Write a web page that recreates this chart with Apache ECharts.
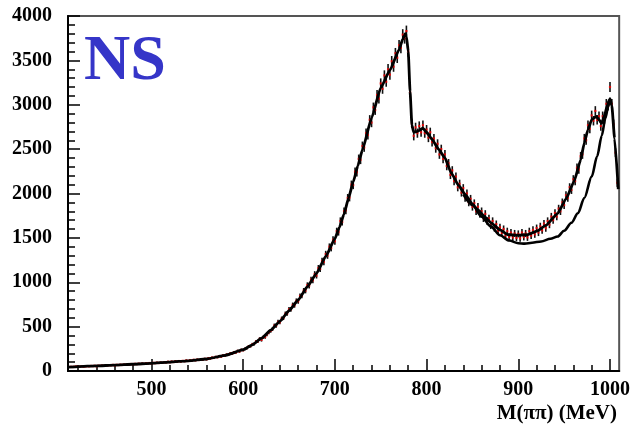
<!DOCTYPE html>
<html>
<head>
<meta charset="utf-8">
<script src="https://cdn.jsdelivr.net/npm/echarts@6/dist/echarts.min.js"></script>
<style>
  html, body { margin: 0; padding: 0; background: #fff; }
  #chart { width: 633px; height: 430px; }
</style>
</head>
<body>
<div id="chart"></div>
<script>
// M(pi pi) spectrum: histogram bins (2 MeV wide) with Poisson errors, fit, and fit without the f0 term
const binStart = 412;
const binWidth = 2;
const binCounts = [
  47, 45, 49, 52, 46, 50, 53, 48, 51, 55,
  52, 57, 55, 59, 53, 60, 57, 62, 58, 63,
  61, 66, 64, 69, 62, 70, 67, 72, 68, 73,
  70, 76, 73, 79, 74, 81, 77, 83, 79, 85,
  80, 87, 84, 90, 85, 92, 88, 95, 90, 96,
  92, 99, 96, 104, 98, 107, 101, 110, 104, 112,
  106, 114, 110, 119, 113, 122, 116, 126, 120, 129,
  124, 133, 128, 137, 131, 144, 139, 151, 147, 159,
  155, 168, 162, 176, 171, 185, 184, 199, 196, 212,
  208, 226, 220, 238, 234, 250, 258, 276, 280, 300,
  305, 332, 334, 362, 350, 381, 383, 412, 436, 452,
  472, 512, 510, 553, 549, 590, 598, 645, 648, 695,
  695, 744, 740, 790, 786, 845, 848, 905, 905, 968,
  962, 1030, 1022, 1092, 1075, 1160, 1150, 1240, 1228, 1318,
  1300, 1400, 1385, 1480, 1462, 1575, 1565, 1690, 1680, 1800,
  1810, 1950, 1955, 2100, 2095, 2245, 2240, 2390, 2380, 2535,
  2520, 2680, 2660, 2830, 2800, 2970, 2940, 3110, 3070, 3240,
  3180, 3330, 3260, 3400, 3340, 3490, 3430, 3580, 3530, 3670,
  3640, 3790, 3750, 3830, 3600, 3140, 2790, 2650, 2745, 2680,
  2760, 2690, 2770, 2680, 2720, 2630, 2690, 2580, 2620, 2510,
  2560, 2440, 2500, 2390, 2440, 2310, 2340, 2210, 2260, 2140,
  2190, 2070, 2110, 2010, 2060, 1950, 2000, 1900, 1940, 1850,
  1890, 1800, 1850, 1770, 1800, 1720, 1770, 1690, 1720, 1640,
  1690, 1610, 1655, 1580, 1620, 1555, 1600, 1525, 1575, 1510,
  1560, 1505, 1550, 1500, 1545, 1495, 1560, 1510, 1550, 1505,
  1575, 1525, 1590, 1540, 1610, 1560, 1630, 1585, 1660, 1610,
  1690, 1650, 1740, 1700, 1780, 1740, 1830, 1800, 1900, 1870,
  1980, 1950, 2070, 2040, 2160, 2140, 2290, 2270, 2420, 2440,
  2620, 2600, 2770, 2730, 2880, 2820, 2930, 2830, 2870, 2760,
  2870, 2840, 3010, 2990, 3200, 3010, 2780, 2460, 2120
];

const fitMass = [409, 420, 440, 460, 480, 500, 520, 540, 560, 580, 600, 610, 620, 630, 640, 650, 660, 670, 680, 690,
  700, 705, 710, 715, 720, 725, 730, 740, 750, 760, 770, 774, 777, 778, 780, 782, 784, 786, 790, 796, 800,
  806, 813, 820, 827, 835, 842, 850, 856, 864, 871, 880, 889, 900, 910, 921, 930, 943, 952, 961, 968,
  972, 976, 980, 985, 988, 991, 994, 997, 1000, 1002, 1005, 1009];
const fitCounts = [44, 50, 58, 66, 76, 87, 100, 115, 135, 175, 240, 295, 370, 460, 560, 680, 800, 950, 1100, 1290,
  1490, 1620, 1770, 1950, 2130, 2310, 2490, 2850, 3190, 3390, 3620, 3740, 3800, 3770, 3600, 3150, 2770, 2690, 2700, 2735, 2690,
  2610, 2500, 2400, 2230, 2090, 1990, 1880, 1814, 1730, 1664, 1590, 1535, 1530, 1535, 1580, 1640, 1777, 1940, 2140, 2380,
  2570, 2720, 2830, 2870, 2830, 2790, 2880, 2990, 3070, 2990, 2620, 2050];

const bgMass = [840, 850, 860, 870, 880, 890, 900, 907, 915, 925, 935, 943, 950, 958, 965, 972, 980, 986, 991, 995, 998, 1000];
const bgCounts = [1990, 1870, 1740, 1630, 1530, 1470, 1440, 1435, 1445, 1460, 1490, 1515, 1580, 1670, 1777, 1950, 2190, 2420, 2650, 2850, 2980, 3060];

const xMajorTicks = [500, 600, 700, 800, 900, 1000];
const xMinorTicks = [420, 440, 460, 480, 520, 540, 560, 580, 620, 640, 660, 680, 720, 740, 760, 780, 820, 840, 860, 880, 920, 940, 960, 980];
const yMax = 4000;
const yStep = 500;

const serif = '"Liberation Serif", "Times New Roman", Times, serif';

const points = binCounts.map((v, i) => [binStart + i * binWidth, v]);
// Poisson errors: sqrt(N)
const errBars = binCounts.map((v, i) => [binStart + i * binWidth, v - Math.sqrt(v), v + Math.sqrt(v)]);
const fitData = fitMass.map((m, i) => [m, fitCounts[i]]);
const bgData = bgMass.map((m, i) => [m, bgCounts[i]]);

const chart = echarts.init(document.getElementById('chart'), null, { renderer: 'canvas' });

const labelStyle = {
  color: '#000', fontFamily: serif, fontWeight: 'bold', fontSize: 20,
  formatter: function (v) { return String(v); }
};

chart.setOption({
  animation: false,
  backgroundColor: '#fff',
  grid: {
    left: 68, right: 12, top: 16, bottom: 59,
    show: true, borderColor: '#555', borderWidth: 2, backgroundColor: 'transparent'
  },
  xAxis: [
    {
      type: 'value', min: 409, max: 1010, position: 'bottom',
      axisLine: { show: true, lineStyle: { color: '#000', width: 2 } },
      axisTick: { show: true, inside: true, length: 12, customValues: xMajorTicks, lineStyle: { color: '#000', width: 1.5 } },
      axisLabel: Object.assign({ margin: 9, customValues: xMajorTicks }, labelStyle),
      splitLine: { show: false }
    },
    {
      type: 'value', min: 409, max: 1010, position: 'bottom',
      axisLine: { show: false },
      axisTick: { show: true, inside: true, length: 6, customValues: xMinorTicks, lineStyle: { color: '#000', width: 1.5 } },
      axisLabel: { show: false },
      splitLine: { show: false }
    }
  ],
  yAxis: {
    type: 'value', min: 0, max: yMax, interval: yStep,
    axisLine: { show: true, lineStyle: { color: '#000', width: 2 } },
    axisTick: { show: true, inside: true, length: 12, lineStyle: { color: '#000', width: 1.5 } },
    minorTick: { show: true, splitNumber: 5, length: 7, lineStyle: { color: '#000', width: 1.5 } },
    axisLabel: Object.assign({ margin: 16 }, labelStyle),
    splitLine: { show: false }
  },
  graphic: [
    {
      type: 'text', left: 84, top: 30, z: 10,
      style: { text: 'NS', font: 'bold 64px ' + serif, fill: '#3535c8' }
    },
    {
      type: 'text', right: 16, top: 403, z: 10,
      style: { text: 'M(ππ) (MeV)', font: 'bold 21px ' + serif, fill: '#000' }
    }
  ],
  series: [
    {
      type: 'custom', name: 'errors', xAxisIndex: 0, z: 1, clip: true,
      data: errBars,
      renderItem: function (params, api) {
        const lo = api.coord([api.value(0), api.value(1)]);
        const hi = api.coord([api.value(0), api.value(2)]);
        return {
          type: 'line',
          shape: { x1: lo[0], y1: lo[1], x2: hi[0], y2: hi[1] },
          style: { stroke: '#111', lineWidth: 1.6 }
        };
      }
    },
    {
      type: 'scatter', name: 'data', xAxisIndex: 0, z: 2, data: points,
      symbol: 'rect', symbolSize: 2.2,
      itemStyle: { color: '#ff0000' }
    },
    {
      type: 'line', name: 'fit', xAxisIndex: 0, z: 3, data: fitData,
      showSymbol: false, smooth: 0.15, smoothMonotone: 'x',
      lineStyle: { color: '#000', width: 2.8 }
    },
    {
      type: 'line', name: 'no f0', xAxisIndex: 0, z: 3, data: bgData,
      showSymbol: false, smooth: 0.3, smoothMonotone: 'x',
      lineStyle: { color: '#000', width: 2.6 }
    }
  ]
});
</script>
</body>
</html>
